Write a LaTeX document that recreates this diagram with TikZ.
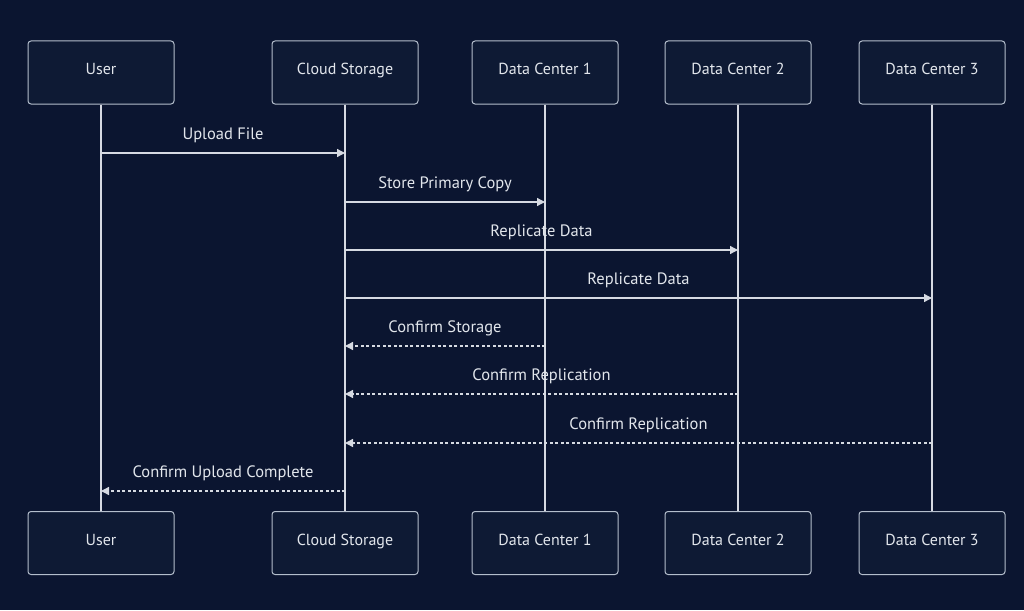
\documentclass[tikz,border=0pt]{standalone}
\usepackage{fontspec}
\setmainfont{PT Sans}
\usetikzlibrary{arrows.meta, positioning, backgrounds}
\definecolor{seqbg}{HTML}{0B1530}
\definecolor{boxfill}{HTML}{0E1A34}
\definecolor{boxline}{HTML}{B4BECC}
\definecolor{wire}{HTML}{D6DAE2}
\definecolor{txt}{HTML}{E2E6EC}

\begin{document}
\begin{tikzpicture}[x=1pt, y=-1pt,
  actor/.style={rectangle, rounded corners=3pt, draw=boxline, fill=boxfill,
    line width=1pt, minimum width=146pt, minimum height=63pt,
    text height=11pt, text depth=7pt,
    font=\fontsize{16}{18}\selectfont, text=txt},
  life/.style={draw=wire, line width=1.5pt},
  msg/.style={-{Triangle[length=8pt, width=8pt]}, draw=wire, line width=1.3pt},
  reply/.style={msg, dash pattern=on 3pt off 2.5pt},
  lbl/.style={midway, anchor=base, yshift=14pt, inner sep=0pt,
    font=\fontsize{16.5}{18}\selectfont, text=txt}
]
  \fill[seqbg] (0,0) rectangle (1024,610);
  \useasboundingbox (0,0) rectangle (1024,610);

  % top row
  \node[actor] (userT)  at (101,72.5) {User};
  \node[actor] (cloudT) at (345,72.5) {Cloud Storage};
  \node[actor] (dcaT)   at (545,72.5) {Data Center 1};
  \node[actor] (dcbT)   at (738,72.5) {Data Center 2};
  \node[actor] (dccT)   at (932,72.5) {Data Center 3};
  % bottom row
  \node[actor] (userB)  at (101,543) {User};
  \node[actor] (cloudB) at (345,543) {Cloud Storage};
  \node[actor] (dcaB)   at (545,543) {Data Center 1};
  \node[actor] (dcbB)   at (738,543) {Data Center 2};
  \node[actor] (dccB)   at (932,543) {Data Center 3};

  % lifelines
  \draw[life] (userT) -- (userB);
  \draw[life] (cloudT) -- (cloudB);
  \draw[life] (dcaT) -- (dcaB);
  \draw[life] (dcbT) -- (dcbB);
  \draw[life] (dccT) -- (dccB);

  % message ends on the lifelines
  \coordinate (u1) at (userT |- 0,153);
  \coordinate (c1) at (cloudT |- 0,153);
  \coordinate (c2) at (cloudT |- 0,202);
  \coordinate (a2) at (dcaT |- 0,202);
  \coordinate (c3) at (cloudT |- 0,250);
  \coordinate (b3) at (dcbT |- 0,250);
  \coordinate (c4) at (cloudT |- 0,298);
  \coordinate (d4) at (dccT |- 0,298);
  \coordinate (a5) at (dcaT |- 0,346);
  \coordinate (c5) at (cloudT |- 0,346);
  \coordinate (b6) at (dcbT |- 0,394);
  \coordinate (c6) at (cloudT |- 0,394);
  \coordinate (d7) at (dccT |- 0,443);
  \coordinate (c7) at (cloudT |- 0,443);
  \coordinate (c8) at (cloudT |- 0,491);
  \coordinate (u8) at (userT |- 0,491);

  \draw[msg] (u1) -- node[lbl] {Upload File} (c1);
  \draw[msg] (c2) -- node[lbl] {Store Primary Copy} (a2);
  \draw[msg] (c3) -- node[lbl] {Replicate Data} (b3);
  \draw[msg] (c4) -- node[lbl] {Replicate Data} (d4);
  \draw[reply] (a5) -- node[lbl] {Confirm Storage} (c5);
  \draw[reply] (b6) -- node[lbl] {Confirm Replication} (c6);
  \draw[reply] (d7) -- node[lbl] {Confirm Replication} (c7);
  \draw[reply] (c8) -- node[lbl] {Confirm Upload Complete} (u8);
\end{tikzpicture}
\end{document}
